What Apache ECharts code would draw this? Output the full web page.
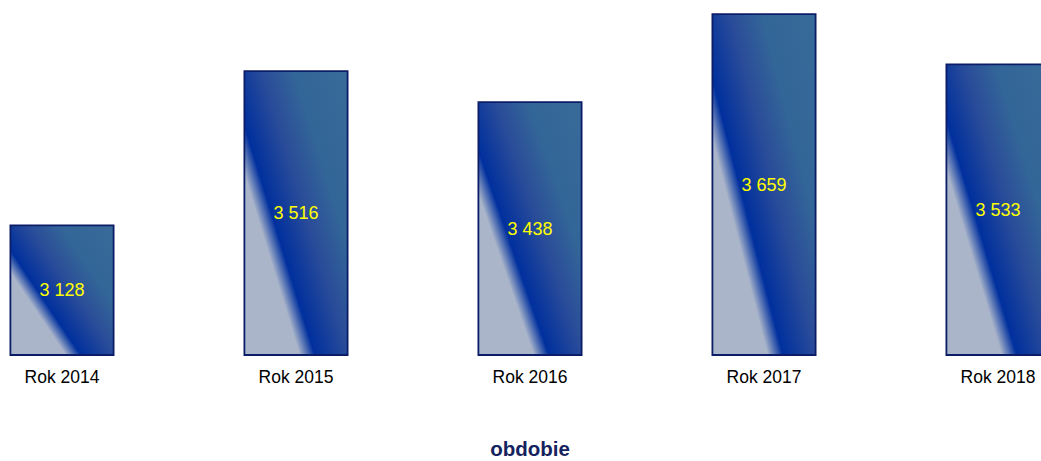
<!DOCTYPE html>
<html>
<head>
<meta charset="utf-8">
<script src="https://cdn.jsdelivr.net/npm/echarts@6/dist/echarts.min.js"></script>
<style>
  html, body { margin: 0; padding: 0; background: #fff; }
  #chart { width: 1041px; height: 461px; }
</style>
</head>
<body>
<div id="chart"></div>
<script>
const categories = ['Rok 2014', 'Rok 2015', 'Rok 2016', 'Rok 2017', 'Rok 2018'];
const values = [3128, 3516, 3438, 3659, 3533];

const chart = echarts.init(document.getElementById('chart'), null, { renderer: 'svg' });

// diagonal fill, light corner bottom-left, runs to steel blue top-right
const barFill = new echarts.graphic.LinearGradient(0, 1, 1.08, 0.09, [
    { offset: 0, color: '#aab5ca' },
    { offset: 0.29, color: '#aab5ca' },
    { offset: 0.37, color: '#00309e' },
    { offset: 0.55, color: '#2a4c99' },
    { offset: 0.72, color: '#336698' },
    { offset: 1, color: '#386b99' }
]);

function fmt(v) {
    return String(v).replace(/\B(?=(\d{3})+(?!\d))/g, ' ');
}

chart.setOption({
    animation: false,
    textStyle: { fontFamily: 'Arial, "Liberation Sans", sans-serif' },
    grid: {
        left: -55,
        right: -74,
        top: -3,
        bottom: 106,
        containLabel: false,
        outerBoundsMode: 'none'
    },
    xAxis: {
        type: 'category',
        data: categories,
        axisLine: { show: false },
        axisTick: { show: false },
        axisLabel: { color: '#000', fontSize: 17.5, margin: 13 },
        name: 'obdobie',
        nameLocation: 'middle',
        nameGap: 83,
        nameTextStyle: { color: '#14235e', fontSize: 20.5, fontWeight: 'bold' }
    },
    yAxis: {
        type: 'value',
        min: 2800,
        max: 3700,
        show: false,
        splitLine: { show: false }
    },
    series: [{
        type: 'bar',
        data: values,
        barWidth: 105,
        itemStyle: {
            color: barFill,
            borderColor: '#0c1d68',
            borderWidth: 1.8
        },
        label: {
            show: true,
            position: 'inside',
            color: '#ffff00',
            fontSize: 18,
            formatter: p => fmt(p.value)
        }
    }]
});
</script>
</body>
</html>
